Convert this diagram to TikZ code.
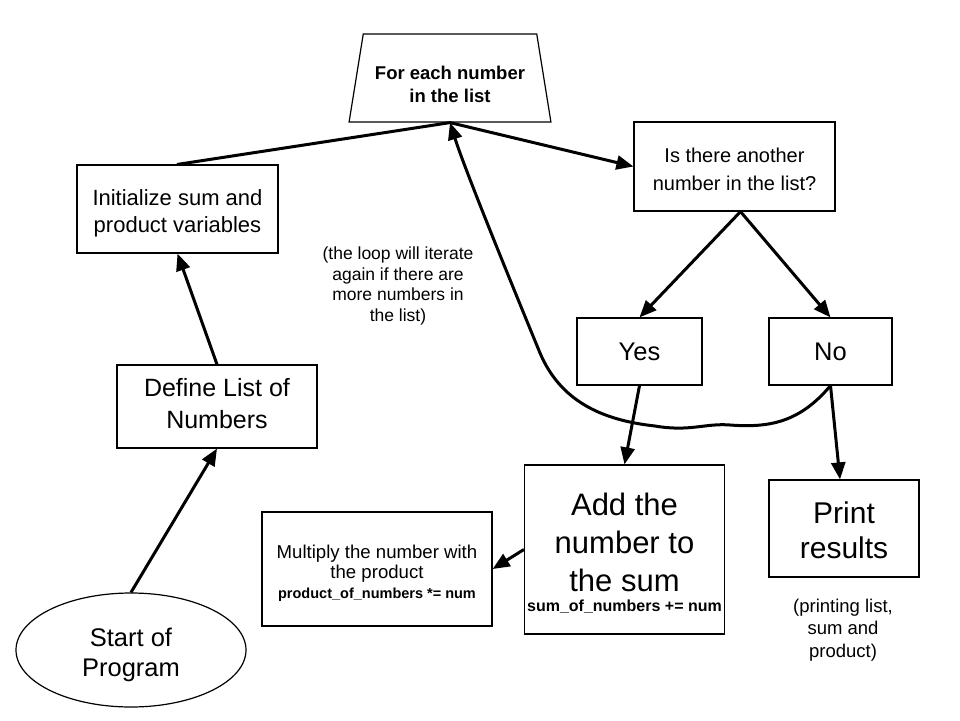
\documentclass[tikz,border=0pt]{standalone}
\usepackage{fontspec}
\setmainfont{Liberation Sans}
\usetikzlibrary{arrows.meta,positioning,shapes.geometric,calc}

\begin{document}
\begin{tikzpicture}[
    x=1pt, y=-1pt,
    box/.style={rectangle, draw=black, line width=1.2pt, align=center, inner sep=0pt},
    note/.style={align=center, inner sep=0pt},
    arrow/.style={-{Triangle[length=17pt,width=14pt]}, line width=3pt},
    link/.style={line width=3pt, line cap=round}
]
\useasboundingbox (0,0) rectangle (960,720);

% Loop header
\node[trapezium, trapezium stretches=true, trapezium left angle=76, trapezium right angle=76,
      draw=black, line width=1.2pt, minimum width=202pt, minimum height=88pt, align=center,
      inner sep=0pt, text height=49pt, font=\fontsize{18.5}{23}\selectfont\bfseries] (loop) at (450,78) {For each number\\in the list};

% Left column
\node[box, minimum width=201pt, minimum height=88pt, text height=51.8pt, font=\fontsize{22}{27}\selectfont] (init) at (177.5,209) {Initialize sum and\\product variables};
\node[box, minimum width=200pt, minimum height=83pt, text height=44pt, font=\fontsize{25}{32}\selectfont] (define) at (217,406.5) {Define List of\\Numbers};
\node[ellipse, draw=black, line width=1.2pt, minimum width=230pt, minimum height=114pt, inner sep=0pt,
      align=center, text height=58.3pt, font=\fontsize{25.5}{30}\selectfont] (start) at (131,650) {Start of\\Program};

% Decision
\node[box, minimum width=201pt, minimum height=89pt, text height=48.3pt, font=\fontsize{20}{28}\selectfont] (another) at (734.5,166.5) {Is there another\\number in the list?};
\node[box, minimum width=125pt, minimum height=67pt, font=\fontsize{25.5}{30}\selectfont] (yes) at (639.5,351.5) {Yes};
\node[box, minimum width=123pt, minimum height=67pt, font=\fontsize{25.5}{30}\selectfont] (no) at (830.5,351.5) {No};

% Actions
\node[box, minimum width=200pt, minimum height=169pt, text height=126.2pt, font=\fontsize{31}{38}\selectfont] (add) at (624.5,549.5)
    {Add the\\number to\\the sum\\[-18pt]{\fontsize{16}{20}\selectfont\bfseries sum\_of\_numbers += num}};
\node[box, minimum width=230pt, minimum height=114pt, text height=61.3pt, font=\fontsize{18.6}{20}\selectfont] (multiply) at (377,569)
    {Multiply the number with\\the product\\{\fontsize{14.5}{17}\selectfont\bfseries product\_of\_numbers *= num}};
\node[box, minimum width=150pt, minimum height=97pt, text height=59.5pt, font=\fontsize{30}{35}\selectfont] (print) at (844,528.5) {Print\\results};

% Comments
\node[note, font=\fontsize{17.5}{20.5}\selectfont] (loopnote) at (398,286) {(the loop will iterate\\again if there are\\more numbers in\\the list)};
\node[note, font=\fontsize{18.5}{22.5}\selectfont] (printnote) at (843,630) {(printing list,\\sum and\\product)};

% Connectors
\draw[arrow] (start.north) -- (define.south);
\draw[arrow] (define.north) -- (init.south);
\draw[link] (init.north) -- (loop.south);
\draw[arrow] (loop.south) -- (another.west);
\draw[arrow] ([xshift=6pt]another.south) -- (yes.north);
\draw[arrow] ([xshift=6pt]another.south) -- (no.north);
\draw[arrow] (yes.south) -- (add.north);
\draw[arrow] (no.south) -- ([xshift=-4pt]print.north);
\draw[arrow] (add.west) -- (multiply.east);

% Loop back
\draw[arrow] (no.south) .. controls (800,422) and (770,428) .. (730,425)
    .. controls (705,423) and (690,432) .. (655,426)
    .. controls (600,420) and (560,400) .. (540,353)
    .. controls (510,280) and (465,170) .. (loop.south);

\end{tikzpicture}
\end{document}
